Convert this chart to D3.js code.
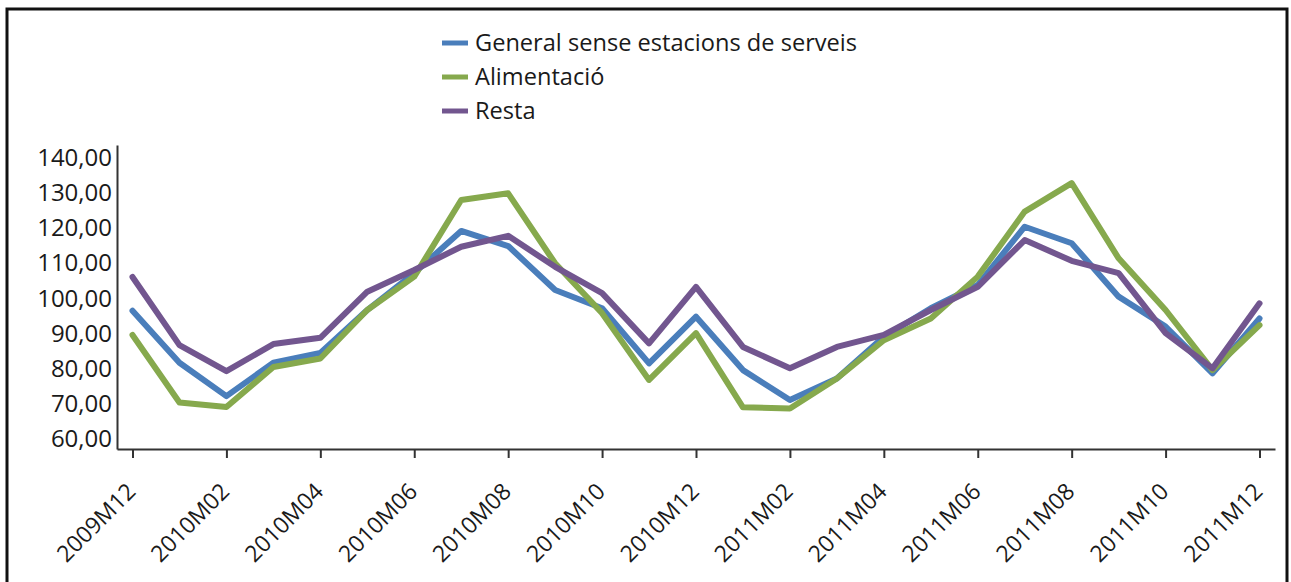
<!DOCTYPE html>
<html>
<head>
<meta charset="utf-8">
<script src="https://cdn.jsdelivr.net/npm/d3@7"></script>
<style>
  html, body { margin: 0; padding: 0; background: #fff; }
  svg { display: block; }
  text { font-family: "Open Sans", sans-serif; fill: #1a1a1a; }
</style>
</head>
<body>
<svg id="chart" width="1291" height="582"></svg>
<script>
const months = ["2009M12","2010M01","2010M02","2010M03","2010M04","2010M05","2010M06","2010M07","2010M08","2010M09","2010M10","2010M11","2010M12",
  "2011M01","2011M02","2011M03","2011M04","2011M05","2011M06","2011M07","2011M08","2011M09","2011M10","2011M11","2011M12"];
const seriesNames = ["General sense estacions de serveis", "Alimentació", "Resta"];
const general = [96.5,81.7,72.2,81.7,84.5,96.7,107.2,119.2,114.9,102.4,97.2,81.5,94.8,79.6,71.1,77.2,89.1,97.2,103.8,120.4,115.7,100.5,92.0,78.7,94.3];
const alimentacio = [89.6,70.4,69.1,80.5,82.9,96.7,106.2,128.0,129.9,110.0,95.8,76.8,90.1,69.0,68.7,77.2,88.1,94.3,106.2,124.7,132.8,111.4,96.7,79.6,92.4];
const resta = [106.1,86.7,79.3,87.0,88.8,101.9,108.1,114.7,117.8,109.0,101.5,87.2,103.3,86.2,80.1,86.2,89.6,96.7,103.3,116.6,110.7,107.2,90.1,80.1,98.6];
const yTicks = [60,70,80,90,100,110,120,130,140];
const xTickLabels = months.filter((m, i) => i % 2 === 0);
const colors = ["#4a7ebb", "#86a94d", "#72568f"];

const svg = d3.select("#chart");

// outer frame
svg.append("rect").attr("x", 7).attr("y", 9).attr("width", 1280).attr("height", 590)
  .attr("fill", "none").attr("stroke", "#111").attr("stroke-width", 3);

const x = d3.scalePoint().domain(months).range([117, 1275]).padding(0.33);
const y = d3.scaleLinear().domain([57.15, 143.65]).range([449, 145]);

// y axis
const yAxis = svg.append("g").attr("transform", "translate(117,0)")
  .call(d3.axisLeft(y).tickValues(yTicks).tickSize(0).tickPadding(5)
    .tickFormat(d => d3.format(".2f")(d).replace(".", ",")));
yAxis.select(".domain").attr("stroke", "#333").attr("stroke-width", 2);
yAxis.selectAll("text").style("font-size", "24px").style("font-family", "'Open Sans', sans-serif").attr("fill", "#1a1a1a");

// x axis
const xAxis = svg.append("g").attr("transform", "translate(0,449)")
  .call(d3.axisBottom(x).tickValues(xTickLabels).tickSize(9).tickSizeOuter(0));
xAxis.select(".domain").attr("stroke", "#333").attr("stroke-width", 2);
xAxis.selectAll(".tick line").attr("stroke", "#333").attr("stroke-width", 2);
xAxis.selectAll("text")
  .style("font-size", "23px").style("font-family", "'Open Sans', sans-serif").attr("fill", "#3c3c3c")
  .attr("text-anchor", "end").attr("x", 0).attr("y", 0).attr("dy", "0")
  .attr("transform", "translate(4,44) rotate(-45)");

// lines
const data = [general, alimentacio, resta];
const line = d3.line().x((d, i) => x(months[i])).y(d => y(d));
data.forEach((vals, k) => {
  svg.append("path").datum(vals)
    .attr("fill", "none").attr("stroke", colors[k]).attr("stroke-width", 6)
    .attr("stroke-linejoin", "round").attr("stroke-linecap", "round")
    .attr("d", line);
});

// legend
const legend = svg.append("g");
seriesNames.forEach((name, k) => {
  const cy = 43 + k * 34;
  legend.append("line").attr("x1", 442).attr("x2", 468).attr("y1", cy).attr("y2", cy)
    .attr("stroke", colors[k]).attr("stroke-width", 5);
  legend.append("text").attr("x", 475).attr("y", cy).attr("dy", "0.35em")
    .style("font-size", "23.6px").text(name);
});
</script>
</body>
</html>
